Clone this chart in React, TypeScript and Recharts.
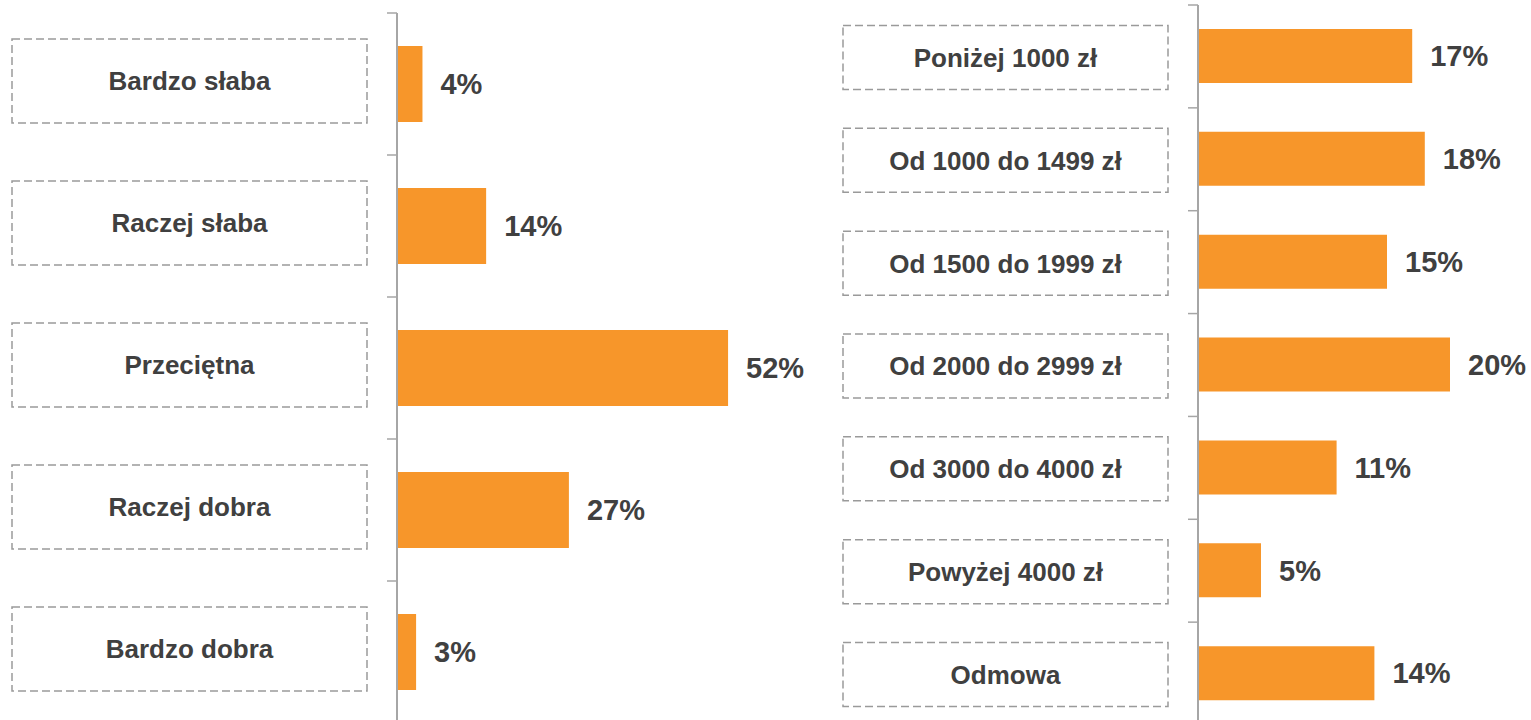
import { Bar, BarChart, LabelList, XAxis, YAxis } from "recharts";

const ratingCategories = ["Bardzo słaba", "Raczej słaba", "Przeciętna", "Raczej dobra", "Bardzo dobra"];
const ratingValues = [4, 14, 52, 27, 3];

const incomeCategories = [
  "Poniżej 1000 zł",
  "Od 1000 do 1499 zł",
  "Od 1500 do 1999 zł",
  "Od 2000 do 2999 zł",
  "Od 3000 do 4000 zł",
  "Powyżej 4000 zł",
  "Odmowa",
];
const incomeValues = [17, 18, 15, 20, 11, 5, 14];

const ratingData = ratingCategories.map((name, i) => ({ name, value: ratingValues[i] }));
const incomeData = incomeCategories.map((name, i) => ({ name, value: incomeValues[i] }));

const BAR_COLOR = "#F7962A";
const TEXT_COLOR = "#404040";
const AXIS_COLOR = "#a6a6a6";
const FONT = "'Liberation Sans', Arial, sans-serif";

interface TickOpts {
  band: number;
  count: number;
  boxLeft: number;
  boxRight: number;
  boxHeight: number;
  shift: number;
}

function makeTick({ band, count, boxLeft, boxRight, boxHeight, shift }: TickOpts) {
  return function BoxTick(props: any) {
    const { x, y, payload, index } = props;
    const cy = y + shift;
    const width = boxLeft - boxRight;
    return (
      <g>
        <line x1={x - 10} x2={x} y1={y - band / 2} y2={y - band / 2} stroke={AXIS_COLOR} strokeWidth={1.5} />
        {index === count - 1 && (
          <line x1={x - 10} x2={x} y1={y + band / 2} y2={y + band / 2} stroke={AXIS_COLOR} strokeWidth={1.5} />
        )}
        <rect
          x={x - boxLeft}
          y={cy - boxHeight / 2}
          width={width}
          height={boxHeight}
          fill="none"
          stroke="#9a9a9a"
          strokeWidth={1.5}
          strokeDasharray="8 4"
        />
        <text
          x={x - boxLeft + width / 2}
          y={cy}
          dy="0.36em"
          textAnchor="middle"
          fontFamily={FONT}
          fontWeight="bold"
          fontSize={26}
          fill={TEXT_COLOR}
        >
          {payload.value}
        </text>
      </g>
    );
  };
}

const labelStyle = { fontFamily: FONT, fontWeight: "bold", fontSize: 29, fill: TEXT_COLOR };

export default function App() {
  const leftTop = 13;
  const leftHeight = 723;
  const rightTop = 5;
  const rightHeight = 725;

  const leftTick = makeTick({
    band: (leftHeight - leftTop) / ratingData.length,
    count: ratingData.length,
    boxLeft: 385,
    boxRight: 30,
    boxHeight: 84,
    shift: -3,
  });
  const rightTick = makeTick({
    band: (rightHeight - rightTop) / incomeData.length,
    count: incomeData.length,
    boxLeft: 355,
    boxRight: 30,
    boxHeight: 64,
    shift: 1,
  });

  return (
    <div style={{ position: "fixed", left: 0, top: 0, width: 1531, height: 720, overflow: "hidden", background: "#fff" }}>
      <div style={{ position: "absolute", left: 0, top: 0 }}>
        <BarChart
          width={840}
          height={leftHeight}
          data={ratingData}
          layout="vertical"
          margin={{ top: leftTop, right: 61, left: 0, bottom: 0 }}
        >
          <XAxis type="number" hide domain={[0, 60]} />
          <YAxis
            type="category"
            dataKey="name"
            width={397}
            interval={0}
            tickSize={0}
            tickMargin={0}
            tickLine={false}
            axisLine={{ stroke: AXIS_COLOR, strokeWidth: 2 }}
            tick={leftTick}
          />
          <Bar dataKey="value" fill={BAR_COLOR} barSize={76} isAnimationActive={false}>
            <LabelList dataKey="value" position="right" offset={18} formatter={(v: any) => `${v}%`} style={labelStyle} />
          </Bar>
        </BarChart>
      </div>
      <div style={{ position: "absolute", left: 800, top: 0 }}>
        <BarChart
          width={731}
          height={rightHeight}
          data={incomeData}
          layout="vertical"
          margin={{ top: rightTop, right: 18, left: 0, bottom: 0 }}
        >
          <XAxis type="number" hide domain={[0, 25]} />
          <YAxis
            type="category"
            dataKey="name"
            width={398}
            interval={0}
            tickSize={0}
            tickMargin={0}
            tickLine={false}
            axisLine={{ stroke: AXIS_COLOR, strokeWidth: 2 }}
            tick={rightTick}
          />
          <Bar dataKey="value" fill={BAR_COLOR} barSize={54} isAnimationActive={false}>
            <LabelList dataKey="value" position="right" offset={18} formatter={(v: any) => `${v}%`} style={labelStyle} />
          </Bar>
        </BarChart>
      </div>
    </div>
  );
}
